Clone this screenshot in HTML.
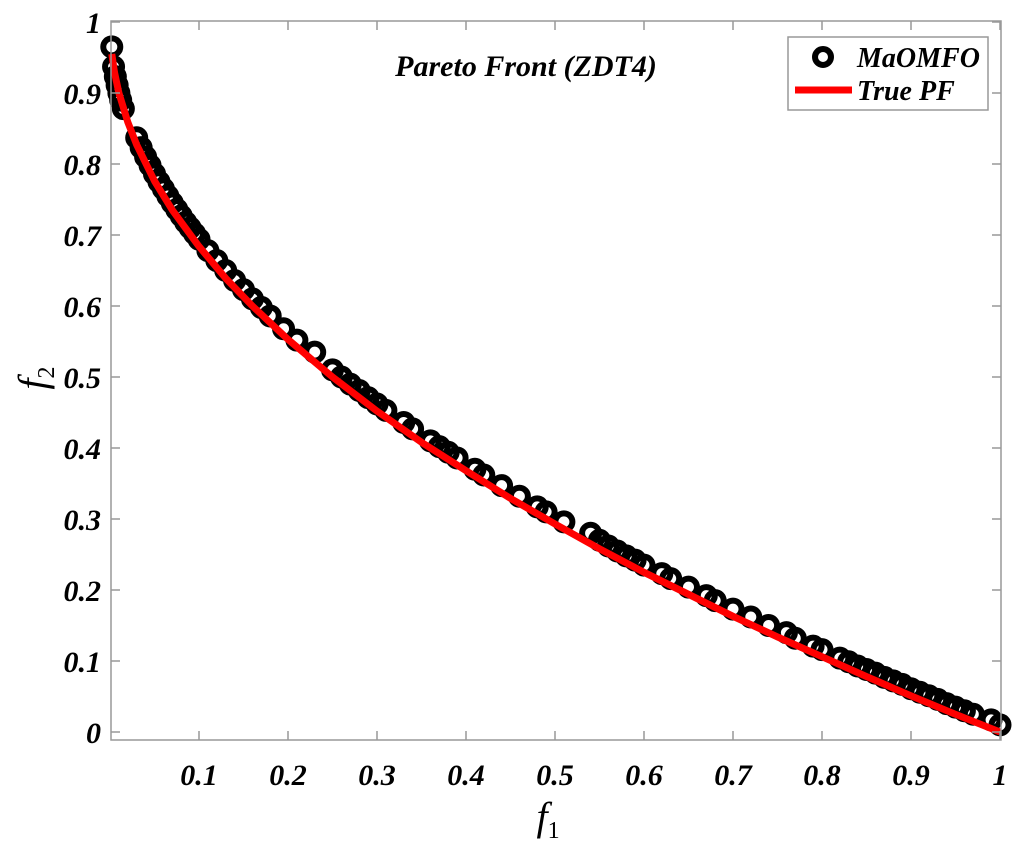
<!DOCTYPE html>
<html><head><meta charset="utf-8">
<style>
html,body{margin:0;padding:0;background:#fff;}
svg{display:block;font-family:"Liberation Serif",serif;}
</style></head>
<body>
<svg id="chart" width="1022" height="846" viewBox="0 0 1022 846">
<rect x="0" y="0" width="1022" height="846" fill="#fff"/>
<g id="plot"></g>
<g id="axes"></g>
<text x="526" y="76" text-anchor="middle" font-size="30" font-weight="bold" font-style="italic">Pareto Front (ZDT4)</text>
<text x="548" y="830" text-anchor="middle" font-size="40" font-style="italic">f<tspan font-size="24" dy="8" font-style="normal">1</tspan></text>
<g transform="translate(46,378) rotate(-90)"><text x="0" y="0" text-anchor="middle" font-size="40" font-style="italic">f<tspan font-size="24" dy="8" font-style="normal">2</tspan></text></g>
<g>
<rect x="788" y="37" width="200" height="73" fill="#fff" stroke="#999" stroke-width="1.5"/>
<circle cx="823" cy="57" r="8" fill="none" stroke="#000" stroke-width="6"/>
<text x="857" y="67" font-size="28" font-weight="bold" font-style="italic">MaOMFO</text>
<line x1="795" y1="90" x2="852" y2="90" stroke="#f00" stroke-width="7"/>
<text x="857" y="100" font-size="28" font-weight="bold" font-style="italic">True PF</text>
</g>
</svg>
<script>
const solF1 = [0.002,0.004,0.006,0.008,0.010,0.012,0.015,0.030,0.035,0.040,0.045,0.050,0.055,0.060,0.065,0.070,0.075,0.080,0.085,0.090,0.095,0.100,0.110,0.120,0.130,0.140,0.150,0.160,0.170,0.180,0.195,0.210,0.230,0.250,0.260,0.270,0.280,0.290,0.300,0.310,0.330,0.340,0.360,0.370,0.380,0.390,0.410,0.420,0.440,0.460,0.480,0.490,0.510,0.540,0.550,0.560,0.570,0.580,0.590,0.600,0.620,0.630,0.650,0.670,0.680,0.700,0.720,0.740,0.760,0.770,0.790,0.800,0.820,0.830,0.840,0.850,0.860,0.870,0.880,0.890,0.900,0.910,0.920,0.930,0.940,0.950,0.960,0.970,0.990,1.000];
const solF2 = [0.965,0.937,0.923,0.911,0.900,0.890,0.878,0.837,0.823,0.810,0.798,0.786,0.775,0.765,0.755,0.745,0.736,0.727,0.718,0.710,0.702,0.694,0.678,0.664,0.650,0.636,0.623,0.610,0.598,0.586,0.568,0.552,0.535,0.510,0.500,0.490,0.481,0.471,0.462,0.453,0.436,0.427,0.410,0.402,0.394,0.386,0.370,0.362,0.347,0.332,0.317,0.310,0.296,0.280,0.270,0.262,0.255,0.248,0.242,0.235,0.223,0.216,0.204,0.192,0.185,0.173,0.162,0.150,0.140,0.132,0.121,0.116,0.104,0.099,0.093,0.088,0.083,0.077,0.072,0.067,0.061,0.056,0.051,0.046,0.040,0.035,0.030,0.025,0.017,0.010];
const pfF1 = [0.002,0.005,0.01,0.02,0.03,0.05,0.07,0.1,0.13,0.16,0.2,0.25,0.3,0.35,0.4,0.45,0.5,0.55,0.6,0.65,0.7,0.75,0.8,0.85,0.9,0.95,1.0];
const pfF2 = [0.955,0.929,0.900,0.859,0.827,0.776,0.735,0.684,0.639,0.600,0.553,0.500,0.452,0.408,0.368,0.329,0.293,0.258,0.225,0.194,0.163,0.134,0.106,0.078,0.051,0.025,0.0];
const xTicks = [0.1,0.2,0.3,0.4,0.5,0.6,0.7,0.8,0.9,1];
const xTickLabels = ["0.1","0.2","0.3","0.4","0.5","0.6","0.7","0.8","0.9","1"];
const yTicks = [0,0.1,0.2,0.3,0.4,0.5,0.6,0.7,0.8,0.9,1];
const yTickLabels = ["0","0.1","0.2","0.3","0.4","0.5","0.6","0.7","0.8","0.9","1"];

const NS="http://www.w3.org/2000/svg";
const L=111,R=1001,T=21,B=740;
function xs(v){return 110+v*890;}
function ys(v){return 732-v*710;}
function mk(tag,attrs,parent){const e=document.createElementNS(NS,tag);for(const k in attrs)e.setAttribute(k,attrs[k]);parent.appendChild(e);return e;}
const plot=document.getElementById('plot'), axes=document.getElementById('axes');

solF1.forEach((v,i)=>{
  const c=mk('circle',{cx:xs(v),cy:ys(solF2[i]),r:8.5,fill:'none',stroke:'#000','stroke-width':6},plot);
  
  
});
const d=pfF1.map((v,i)=>(i?'L':'M')+xs(v).toFixed(1)+' '+ys(pfF2[i]).toFixed(1)).join(' ');
const pf=mk('path',{d:d,fill:'none',stroke:'#f00','stroke-width':7,'stroke-linejoin':'round'},plot);



const box=mk('rect',{x:L,y:T,width:R-L,height:B-T,fill:'none',stroke:'#999','stroke-width':1.5},axes);


xTicks.forEach((v,i)=>{
  const x=xs(v);
  mk('line',{x1:x,y1:B,x2:x,y2:B-9,stroke:'#999','stroke-width':1.5},axes);
  mk('line',{x1:x,y1:T,x2:x,y2:T+9,stroke:'#999','stroke-width':1.5},axes);
  const t=mk('text',{x:x,y:785,'text-anchor':'middle','font-size':30,'font-weight':'bold','font-style':'italic'},axes);
  t.textContent=xTickLabels[i];
  
  
});
yTicks.forEach((v,i)=>{
  const y=ys(v);
  mk('line',{x1:L,y1:y,x2:L+9,y2:y,stroke:'#999','stroke-width':1.5},axes);
  mk('line',{x1:R,y1:y,x2:R-9,y2:y,stroke:'#999','stroke-width':1.5},axes);
  const t=mk('text',{x:101,y:y+11,'text-anchor':'end','font-size':30,'font-weight':'bold','font-style':'italic'},axes);
  t.textContent=yTickLabels[i];
  
  
});
</script>
</body></html>
